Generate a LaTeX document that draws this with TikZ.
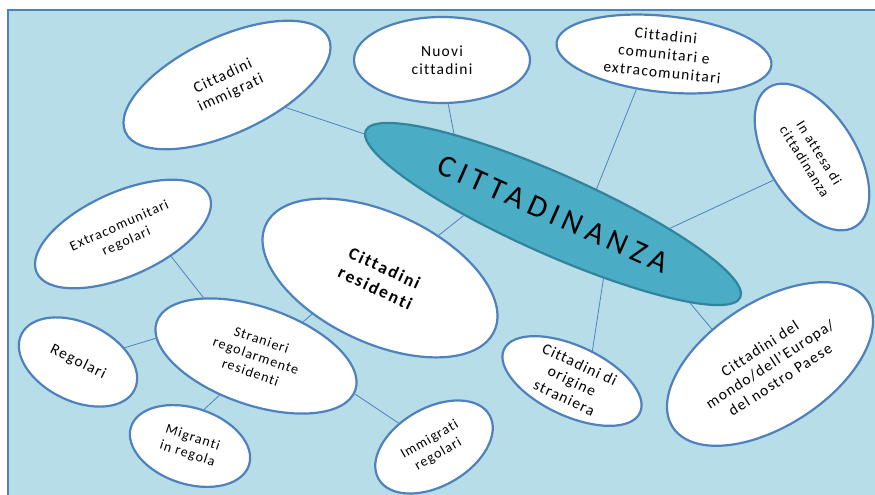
\documentclass[tikz,border=0pt]{standalone}
\usepackage{fontspec}
\setmainfont{Carlito}[LetterSpace=8, Ligatures={NoCommon}]
\usetikzlibrary{shapes.geometric}

\definecolor{paneblue}{HTML}{B7DEE8}
\definecolor{edgeblue}{HTML}{4F81BD}
\definecolor{hubfill}{HTML}{4BACC6}
\definecolor{hubedge}{HTML}{31849B}

\newcommand{\bubbletext}{\fontsize{15.5}{18.5}\selectfont}
\newcommand{\smalltext}{\fontsize{14}{17}\selectfont}

\tikzset{
  bubble/.style={ellipse, draw=edgeblue, line width=2.2pt, fill=white,
    inner sep=0pt, align=center, text=black, font=\bubbletext},
  hub/.style={ellipse, draw=hubedge, line width=2.2pt, fill=hubfill,
    inner sep=0pt, align=center, text=black},
  link/.style={draw=edgeblue, line width=0.8pt},
}

\begin{document}
\begin{tikzpicture}[x=1pt, y=-1pt]
\useasboundingbox (0,0) rectangle (875,495);

% panel
\draw[draw=edgeblue, line width=2.2pt, fill=paneblue] (8,10) rectangle (890,510);

% central concept
\node[hub, minimum width=410pt, minimum height=80pt, rotate=-24,
  font={\fontsize{31}{36}\selectfont\addfontfeatures{LetterSpace=18}}]
  (hub) at (553,214) {CITTADINANZA};

% outer bubbles
\node[bubble, minimum width=224pt, minimum height=96pt, rotate=25]
  (imm) at (227,85) {Cittadini\\immigrati};
\node[bubble, minimum width=176pt, minimum height=86pt]
  (nuovi) at (442,60) {Nuovi\\cittadini};
\node[bubble, minimum width=216pt, minimum height=76pt, rotate=-6]
  (comun) at (664,54) {Cittadini\\comunitari e\\extracomunitari};
\node[bubble, minimum width=164pt, minimum height=88pt, rotate=-58, font=\smalltext]
  (attesa) at (812,157) {In attesa di\\cittadinanza};
\node[bubble, minimum width=252pt, minimum height=130pt, rotate=-25,
  font={\fontsize{17.5}{22}\selectfont\bfseries\addfontfeatures{LetterSpace=11}}]
  (resid) at (380,278) {Cittadini\\residenti};
\node[bubble, minimum width=189pt, minimum height=84pt, rotate=24, font=\smalltext]
  (extra) at (123,234) {Extracomunitari\\regolari};
\node[bubble, minimum width=210pt, minimum height=98pt, rotate=-19, font=\smalltext]
  (stran) at (256,356) {Stranieri\\regolarmente\\residenti};
\node[bubble, minimum width=126pt, minimum height=78pt, rotate=-26]
  (regol) at (78,362) {Regolari};
\node[bubble, minimum width=124pt, minimum height=76pt, rotate=-18, font=\smalltext]
  (migr) at (190,446) {Migranti\\in regola};
\node[bubble, minimum width=128pt, minimum height=78pt, rotate=30, font=\smalltext]
  (immreg) at (434,447) {Immigrati\\regolari};
\node[bubble, minimum width=150pt, minimum height=70pt, rotate=-25]
  (origine) at (572,381) {Cittadini di\\origine\\straniera};
\node[bubble, minimum width=232pt, minimum height=124pt, rotate=33]
  (mondo) at (770,364) {Cittadini del\\mondo/dell’Europa/\\del nostro Paese};

% connectors to the central concept
\draw[link] (imm.-46) -- (hub.181);
\draw[link] (nuovi.-82) -- (hub.165.6);
\draw[link] (comun.-122.9) -- (hub.54.6);
\draw[link] (attesa.-91) -- (hub.17.6);
\draw[link] (resid.61.6) -- (hub.205.3);
\draw[link] (origine.81.8) -- (hub.-28.4);
\draw[link] (mondo.116.2) -- (hub.-9.6);

% connectors around "Stranieri regolarmente residenti"
\draw[link] (stran.55.7) -- (resid.-127.1);
\draw[link] (extra.-49.5) -- (stran.151.5);
\draw[link] (regol.43.7) -- (stran.189.8);
\draw[link] (migr.87) -- (stran.-114.5);
\draw[link] (immreg.116.3) -- (stran.-2);
\end{tikzpicture}
\end{document}
